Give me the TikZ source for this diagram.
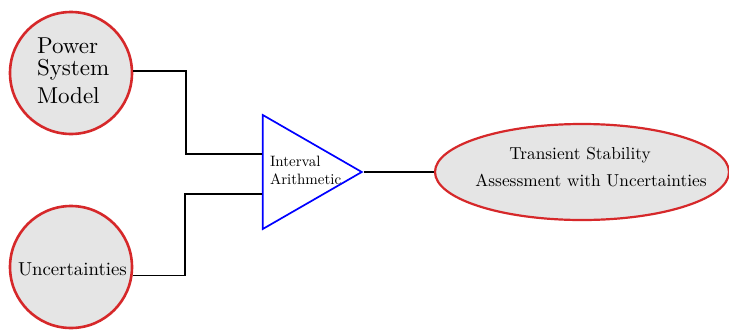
\documentclass[tikz,border=0pt]{standalone}
\usepackage{fontspec}
\setmainfont{lmroman10-regular}[Extension=.otf]
\usetikzlibrary{shapes.geometric,calc}
\definecolor{cred}{RGB}{214,40,42}
\definecolor{cfill}{RGB}{229,229,229}
\begin{document}
\begin{tikzpicture}[x=1pt,y=-1pt,
  inbox/.style={circle,draw=cred,fill=cfill,line width=2.6pt,minimum size=122pt,inner sep=0pt},
  outbox/.style={ellipse,draw=cred,fill=cfill,line width=2.2pt,minimum width=294pt,minimum height=96pt,inner sep=0pt},
  opbox/.style={isosceles triangle,isosceles triangle stretches,shape border rotate=0,draw=blue,line width=1.7pt,minimum width=114pt,minimum height=99pt,inner sep=0pt},
  conn/.style={draw=black,line width=1.6pt},
  txt/.style={inner sep=0pt,outer sep=0pt},
  bigtxt/.style={txt,anchor=base west,font=\fontsize{23}{23}\selectfont},
  smalltxt/.style={txt,anchor=base west,font=\fontsize{15}{15}\selectfont},
  midtxt/.style={txt,anchor=base,font=\fontsize{17.3}{17.3}\selectfont}]
\useasboundingbox (0,0) rectangle (729,330);
\node[inbox] (pm) at (71,73) {};
\node[inbox] (un) at (71,267) {};
\node[opbox,anchor=apex] (ia) at (364,172) {};
\node[outbox] (ta) at (582,172) {};
% texts
\node[bigtxt] (pmt1) at (37,53) {Power};
\node[bigtxt] (pmt2) at (37,75.5) {System};
\node[bigtxt] (pmt3) at (37,103.5) {Model};
\node[txt,anchor=base west,font=\fontsize{18.8}{22}\selectfont] (unt) at (18,275.5) {Uncertainties};
\node[smalltxt] (iat1) at (270,166.7) {Interval};
\node[smalltxt] (iat2) at (270,184) {Arithmetic};
\node[midtxt] (tat1) at (580,159) {Transient Stability};
\node[midtxt] (tat2) at (591,186.5) {Assessment with Uncertainties};
% connectors
\draw[conn] (pm.2) -| ($(ia.lower side)+(-76,-18)$) -- ($(ia.lower side)+(0,-18)$);
\draw[conn] (un.-8) -| ($(ia.lower side)+(-77,22)$) -- ($(ia.lower side)+(0,22)$);
\draw[conn] (ia.apex) -- (ta.west);
\end{tikzpicture}
\end{document}
